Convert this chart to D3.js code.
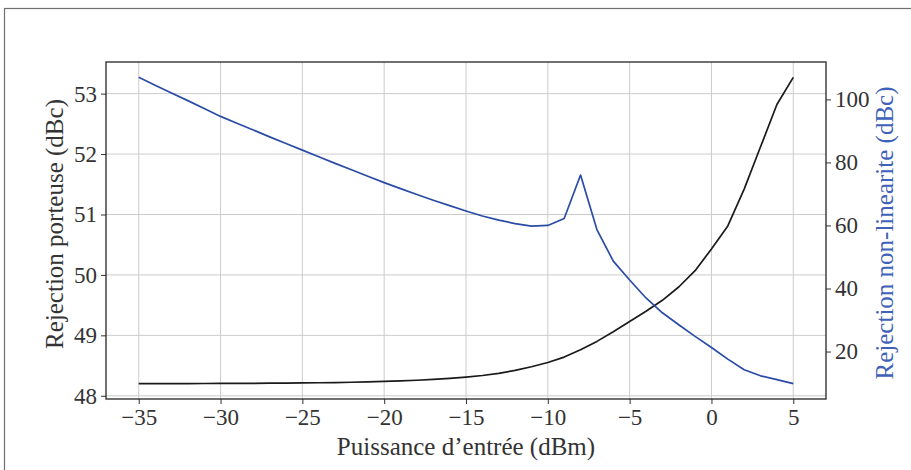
<!DOCTYPE html>
<html>
<head>
<meta charset="utf-8">
<script src="https://cdn.jsdelivr.net/npm/d3@7"></script>
<style>
  html, body { margin: 0; padding: 0; background: #fff; }
  svg { display: block; }
  text { font-family: "Liberation Serif", "DejaVu Serif", serif; }
</style>
</head>
<body>
<svg id="chart" width="911" height="470"></svg>
<script>
// ---- data ----
const inputPower = [-35,-34,-33,-32,-31,-30,-29,-28,-27,-26,-25,-24,-23,-22,-21,-20,-19,-18,-17,-16,-15,-14,-13,-12,-11,-10,-9,-8,-7,-6,-5,-4,-3,-2,-1,0,1,2,3,4,5];
const carrierRejection = [48.200,48.200,48.201,48.202,48.203,48.204,48.205,48.206,48.208,48.210,48.212,48.215,48.219,48.224,48.230,48.237,48.246,48.257,48.270,48.287,48.308,48.335,48.370,48.420,48.480,48.550,48.640,48.760,48.900,49.060,49.230,49.400,49.580,49.800,50.070,50.430,50.810,51.420,52.120,52.820,53.270];
const nonlinRejection = [107.0,104.5,102.0,99.6,97.1,94.6,92.4,90.3,88.1,86.0,83.9,81.8,79.7,77.7,75.6,73.6,71.7,69.8,68.0,66.3,64.6,63.0,61.7,60.6,59.8,60.0,62.2,76.0,58.7,48.7,42.7,37.0,32.3,28.5,24.8,21.3,17.6,14.2,12.3,11.1,9.8];
const xTicks = [-35,-30,-25,-20,-15,-10,-5,0,5];
const leftTicks = [48,49,50,51,52,53];
const rightTicks = [20,40,60,80,100];
const xLabel = "Puissance d\u2019entr\u00e9e (dBm)";
const leftLabel = "Rejection porteuse (dBc)";
const rightLabel = "Rejection non-linearite (dBc)";

// ---- layout ----
const svg = d3.select("#chart");
const L = 106, R = 826, T = 62, B = 399;
const blue = "#2a4ca6";
const fmt = v => (v < 0 ? "\u2212" + Math.abs(v) : String(v));

function padded(arr) {
  const [a, b] = d3.extent(arr); const m = (b - a) * 0.05; return [a - m, b + m];
}
const xd = d3.extent(inputPower); const xm = (xd[1] - xd[0]) * 0.05;
const x = d3.scaleLinear().domain([xd[0] - xm, xd[1] + xm]).range([L, R]);
const yL = d3.scaleLinear().domain(padded(carrierRejection)).range([B, T]);
const yR = d3.scaleLinear().domain(padded(nonlinRejection)).range([B, T]);

// outer frame
svg.append("rect").attr("x", 4.5).attr("y", 8.5).attr("width", 1000).attr("height", 1000)
  .attr("fill", "none").attr("stroke", "#6e6e6e").attr("stroke-width", 1.2);

// grid
const grid = svg.append("g");
grid.selectAll("line.v").data(xTicks).join("line")
  .attr("x1", d => x(d)).attr("x2", d => x(d)).attr("y1", T).attr("y2", B)
  .attr("stroke", "#cccccc").attr("stroke-width", 1);
grid.selectAll("line.h").data(leftTicks).join("line")
  .attr("x1", L).attr("x2", R).attr("y1", d => yL(d)).attr("y2", d => yL(d))
  .attr("stroke", "#cccccc").attr("stroke-width", 1);

// lines
const lineL = d3.line().x((d, i) => x(inputPower[i])).y(d => yL(d));
const lineR = d3.line().x((d, i) => x(inputPower[i])).y(d => yR(d));
svg.append("path").attr("d", lineL(carrierRejection)).attr("fill", "none")
  .attr("stroke", "#1a1a1a").attr("stroke-width", 1.7).attr("stroke-linejoin", "round");
svg.append("path").attr("d", lineR(nonlinRejection)).attr("fill", "none")
  .attr("stroke", blue).attr("stroke-width", 1.7).attr("stroke-linejoin", "round");

// axes
function styleAxis(g) {
  g.selectAll("path.domain").remove();
  g.selectAll(".tick line").attr("stroke", "#333").attr("stroke-width", 1);
  g.selectAll(".tick text").attr("fill", "#333").style("font-size", "23px")
    .style("font-family", "'Liberation Serif', 'DejaVu Serif', serif");
}
svg.append("g").attr("transform", `translate(0,${B})`)
  .call(d3.axisBottom(x).tickValues(xTicks).tickFormat(fmt).tickSize(5).tickPadding(5))
  .call(styleAxis);
svg.append("g").attr("transform", `translate(${L},0)`)
  .call(d3.axisLeft(yL).tickValues(leftTicks).tickFormat(fmt).tickSize(5).tickPadding(4))
  .call(styleAxis);
svg.append("g").attr("transform", `translate(${R},0)`)
  .call(d3.axisRight(yR).tickValues(rightTicks).tickFormat(fmt).tickSize(5).tickPadding(4))
  .call(styleAxis);

// spines
svg.append("rect").attr("x", L).attr("y", T).attr("width", R - L).attr("height", B - T)
  .attr("fill", "none").attr("stroke", "#262626").attr("stroke-width", 1.3);

// axis labels
svg.append("text").attr("x", (L + R) / 2).attr("y", 455).attr("text-anchor", "middle")
  .attr("fill", "#333").style("font-size", "25px").text(xLabel);
svg.append("text").attr("transform", `translate(63,224) rotate(-90)`)
  .attr("text-anchor", "middle").attr("fill", "#333").style("font-size", "25px").text(leftLabel);
svg.append("text").attr("transform", `translate(893,233) rotate(-90)`)
  .attr("text-anchor", "middle").attr("fill", "#3f62b8").style("font-size", "25px").text(rightLabel);
</script>
</body>
</html>
